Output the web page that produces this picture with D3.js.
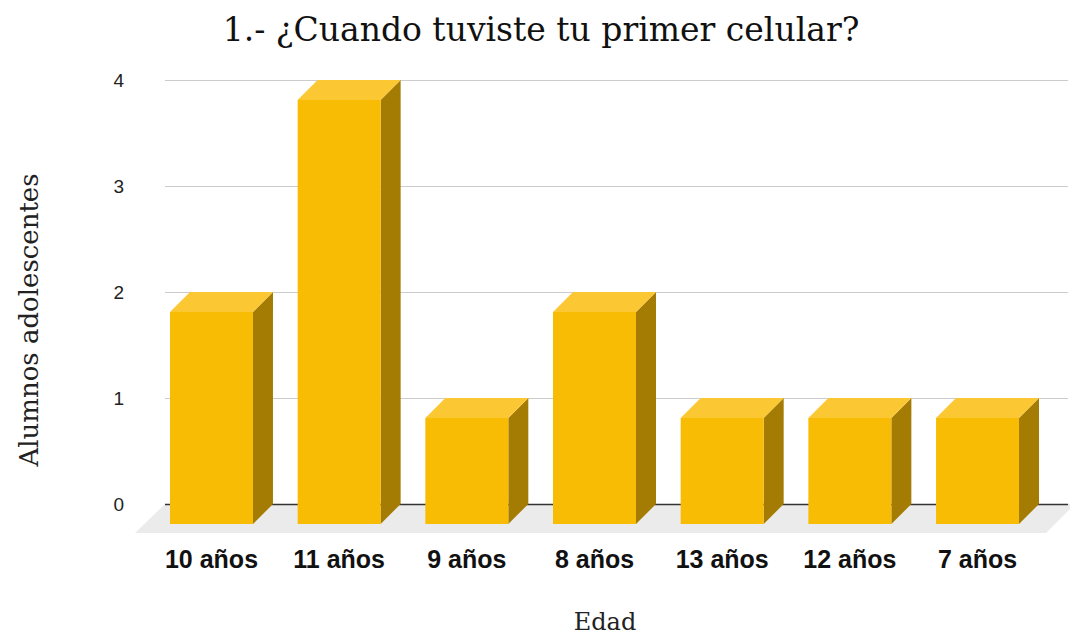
<!DOCTYPE html>
<html>
<head>
<meta charset="utf-8">
<script src="https://cdn.jsdelivr.net/npm/d3@7"></script>
<style>
  body { margin: 0; background: #fff; }
  svg { display: block; }
</style>
</head>
<body>
<div id="chart"></div>
<script>
// data
var categories = ["10 años", "11 años", "9 años", "8 años", "13 años", "12 años", "7 años"];
var values = [2, 4, 1, 2, 1, 1, 1];
var yTicks = [0, 1, 2, 3, 4];

var W = 1070, H = 638;
var depth = 20;          // 3d offset of the bars
var floorDepth = 29;

var svg = d3.select("#chart").append("svg")
  .attr("width", W)
  .attr("height", H);

// plot area (back plane)
var plotLeft = 165, plotRight = 1068, plotTop = 80, plotBase = 504;

var x = d3.scaleBand()
  .domain(categories)
  .range([167, 1062])
  .paddingInner(0.35)
  .paddingOuter(0.18);

var y = d3.scaleLinear()
  .domain([0, 4])
  .range([plotBase, plotTop]);

function pts(a){ return a.map(function(p){ return p.join(","); }).join(" "); }

// floor
svg.append("polygon")
  .attr("points", pts([
    [plotLeft, plotBase], [plotRight + 7, plotBase],
    [plotRight + 7 - floorDepth, plotBase + floorDepth], [plotLeft - 30, plotBase + floorDepth]
  ]))
  .attr("fill", "#ebebeb");

// gridlines + y labels
var yAxis = svg.append("g")
  .attr("transform", "translate(" + plotLeft + ",0)")
  .call(d3.axisLeft(y).tickValues(yTicks).tickFormat(d3.format("d"))
    .tickSizeInner(-(plotRight - plotLeft)).tickSizeOuter(0).tickPadding(41));
yAxis.select(".domain").remove();
yAxis.selectAll("line")
  .attr("stroke", function(d){ return d === 0 ? "#333" : "#cccccc"; })
  .attr("stroke-width", function(d){ return d === 0 ? 1.5 : 1.2; });
yAxis.selectAll("text")
  .attr("font-family", "Arial, 'Liberation Sans', sans-serif")
  .attr("font-size", 19)
  .attr("fill", "#222");

// bars
var bars = svg.selectAll("g.bar")
  .data(categories.map(function(c, i){ return {c: c, v: values[i]}; }))
  .enter().append("g").attr("class", "bar");

var bw = x.bandwidth();

bars.each(function(d){
  var g = d3.select(this);
  var fx = x(d.c) - depth;
  var fy = y(d.v) + depth;
  var fb = y(0) + depth;
  // side
  g.append("polygon")
    .attr("points", pts([[fx + bw, fy], [fx + bw + depth, fy - depth], [fx + bw + depth, fb - depth], [fx + bw, fb]]))
    .attr("fill", "#a57c03");
  // top
  g.append("polygon")
    .attr("points", pts([[fx, fy], [fx + depth, fy - depth], [fx + bw + depth, fy - depth], [fx + bw, fy]]))
    .attr("fill", "#fbc834");
  // front
  g.append("rect")
    .attr("x", fx).attr("y", fy)
    .attr("width", bw).attr("height", fb - fy)
    .attr("fill", "#f9bc05");
});

// x labels
var xAxis = svg.append("g")
  .attr("transform", "translate(" + (-depth) + "," + (plotBase + floorDepth) + ")")
  .call(d3.axisBottom(x).tickSize(0).tickPadding(17));
xAxis.select(".domain").remove();
xAxis.selectAll("text")
  .attr("font-family", "Arial, 'Liberation Sans', sans-serif")
  .attr("font-size", 25)
  .attr("font-weight", "bold")
  .attr("fill", "#111");

// title
svg.append("text")
  .attr("x", 541).attr("y", 41)
  .attr("text-anchor", "middle")
  .attr("font-family", "Georgia, 'DejaVu Serif', serif")
  .attr("font-size", 33)
  .attr("fill", "#111")
  .text("1.- ¿Cuando tuviste tu primer celular?");

// axis titles
svg.append("text")
  .attr("transform", "translate(38,320) rotate(-90)")
  .attr("text-anchor", "middle")
  .attr("font-family", "Georgia, 'DejaVu Serif', serif")
  .attr("font-size", 26)
  .attr("fill", "#222")
  .text("Alumnos adolescentes");

svg.append("text")
  .attr("x", 605).attr("y", 630)
  .attr("text-anchor", "middle")
  .attr("font-family", "Georgia, 'DejaVu Serif', serif")
  .attr("font-size", 24)
  .attr("fill", "#222")
  .text("Edad");
</script>
</body>
</html>
